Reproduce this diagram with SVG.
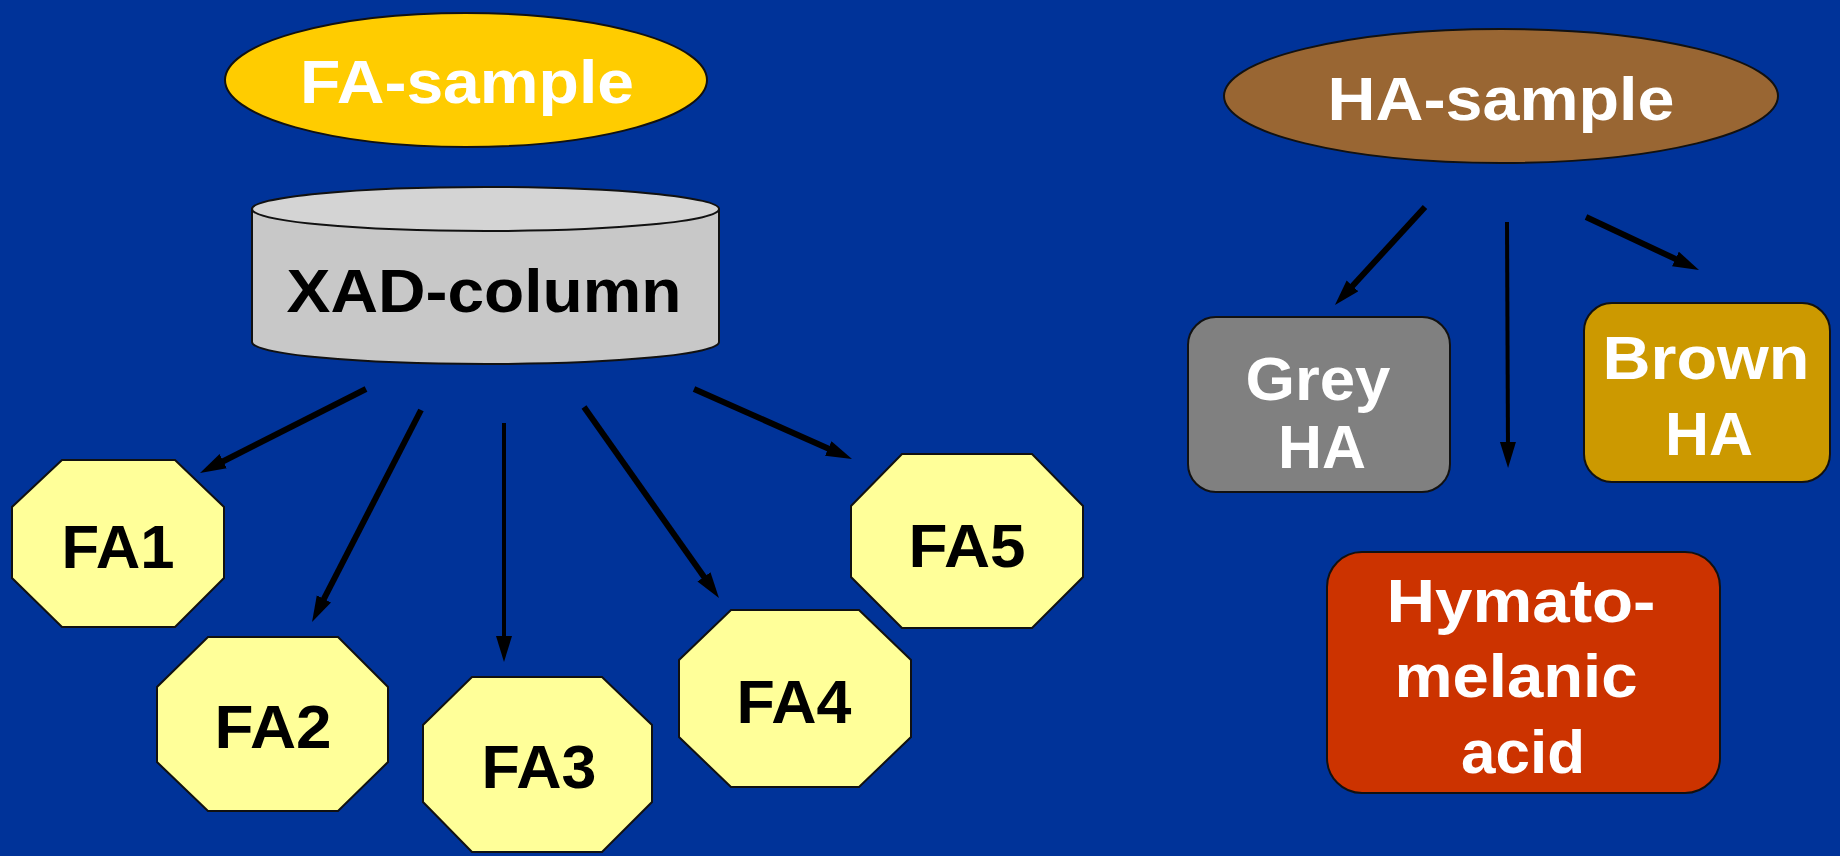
<svg xmlns="http://www.w3.org/2000/svg" width="1840" height="856" viewBox="0 0 1840 856">
<defs>
<style>
.t{font-family:"Liberation Sans",Arial,sans-serif;font-weight:bold;font-size:62px;text-anchor:middle}
.w{fill:#ffffff}
.k{fill:#000000}
.oct{fill:#ffff99;stroke:#111111;stroke-width:2}
.ln{stroke:#000000;stroke-width:6;fill:none;marker-end:url(#ah)}
.vl{stroke-width:4}
.box{stroke:#111111;stroke-width:2}
</style>
<marker id="ah" markerUnits="userSpaceOnUse" markerWidth="30" markerHeight="18" refX="11" refY="8" orient="auto">
<path d="M0,0 L26,8 L0,16 Z" fill="#000000"/>
</marker>
</defs>
<rect x="0" y="0" width="1840" height="856" fill="#003399"/>

<g id="fa-sample">
<ellipse cx="466" cy="80" rx="241" ry="67" fill="#ffcc00" stroke="#111111" stroke-width="2"/>
<text class="t w" x="467" y="103" textLength="334" lengthAdjust="spacingAndGlyphs">FA-sample</text>
</g>

<g id="xad-column">
<path d="M252,209 L252,342 A233.5,22 0 0 0 719,342 L719,209 Z" fill="#c8c8c8" stroke="#111111" stroke-width="2"/>
<ellipse cx="485.5" cy="209" rx="233.5" ry="22" fill="#d4d4d4" stroke="#111111" stroke-width="2"/>
<text class="t k" x="484" y="312" textLength="395" lengthAdjust="spacingAndGlyphs">XAD-column</text>
</g>

<g id="fa1">
<polygon class="oct" points="62,460 175,460 224,507 224,578 175,627 62,627 12,578 12,507"/>
<text class="t k" x="118" y="568" textLength="113" lengthAdjust="spacingAndGlyphs">FA1</text>
</g>
<g id="fa2">
<polygon class="oct" points="208,637 338,637 388,687 388,762 338,811 208,811 157,762 157,687"/>
<text class="t k" x="273" y="748" textLength="117" lengthAdjust="spacingAndGlyphs">FA2</text>
</g>
<g id="fa3">
<polygon class="oct" points="472,677 602,677 652,725 652,802 602,852 472,852 423,802 423,725"/>
<text class="t k" x="539" y="788" textLength="115" lengthAdjust="spacingAndGlyphs">FA3</text>
</g>
<g id="fa4">
<polygon class="oct" points="731,610 859,610 911,660 911,737 859,787 731,787 679,737 679,660"/>
<text class="t k" x="794" y="723" textLength="115" lengthAdjust="spacingAndGlyphs">FA4</text>
</g>
<g id="fa5">
<polygon class="oct" points="902,454 1032,454 1083,506 1083,577 1032,628 902,628 851,577 851,506"/>
<text class="t k" x="967" y="567" textLength="117" lengthAdjust="spacingAndGlyphs">FA5</text>
</g>

<g id="ha-sample">
<ellipse cx="1501" cy="96" rx="277" ry="67" fill="#996633" stroke="#111111" stroke-width="2"/>
<text class="t w" x="1501" y="120" textLength="347" lengthAdjust="spacingAndGlyphs">HA-sample</text>
</g>

<g id="grey-ha">
<rect class="box" x="1188" y="317" width="262" height="175" rx="28" ry="28" fill="#808080"/>
<text class="t w" x="1318" y="400" textLength="145" lengthAdjust="spacingAndGlyphs">Grey</text>
<text class="t w" x="1322" y="468" textLength="88" lengthAdjust="spacingAndGlyphs">HA</text>
</g>

<g id="brown-ha">
<rect class="box" x="1584" y="303" width="246" height="179" rx="28" ry="28" fill="#cc9900"/>
<text class="t w" x="1706" y="379" textLength="207" lengthAdjust="spacingAndGlyphs">Brown</text>
<text class="t w" x="1709" y="455" textLength="88" lengthAdjust="spacingAndGlyphs">HA</text>
</g>

<g id="hymatomelanic-acid">
<rect class="box" x="1327" y="552" width="393" height="241" rx="35" ry="35" fill="#cc3300"/>
<text class="t w" x="1521" y="622" textLength="269" lengthAdjust="spacingAndGlyphs">Hymato-</text>
<text class="t w" x="1516" y="697" textLength="243" lengthAdjust="spacingAndGlyphs">melanic</text>
<text class="t w" x="1523" y="773" textLength="124" lengthAdjust="spacingAndGlyphs">acid</text>
</g>

<g id="connectors">
<line class="ln" x1="366" y1="389" x2="213.4" y2="466.2"/>
<line class="ln" x1="421" y1="410" x2="318.9" y2="608.7"/>
<line class="ln vl" x1="504" y1="423" x2="504" y2="647"/>
<line class="ln" x1="584" y1="407" x2="710.3" y2="585.8"/>
<line class="ln" x1="694" y1="389" x2="838.3" y2="452.9"/>
<line class="ln" x1="1425" y1="207" x2="1345.1" y2="294"/>
<line class="ln vl" x1="1507" y1="222" x2="1508" y2="453"/>
<line class="ln" x1="1586" y1="217" x2="1685.4" y2="263.6"/>
</g>
</svg>
